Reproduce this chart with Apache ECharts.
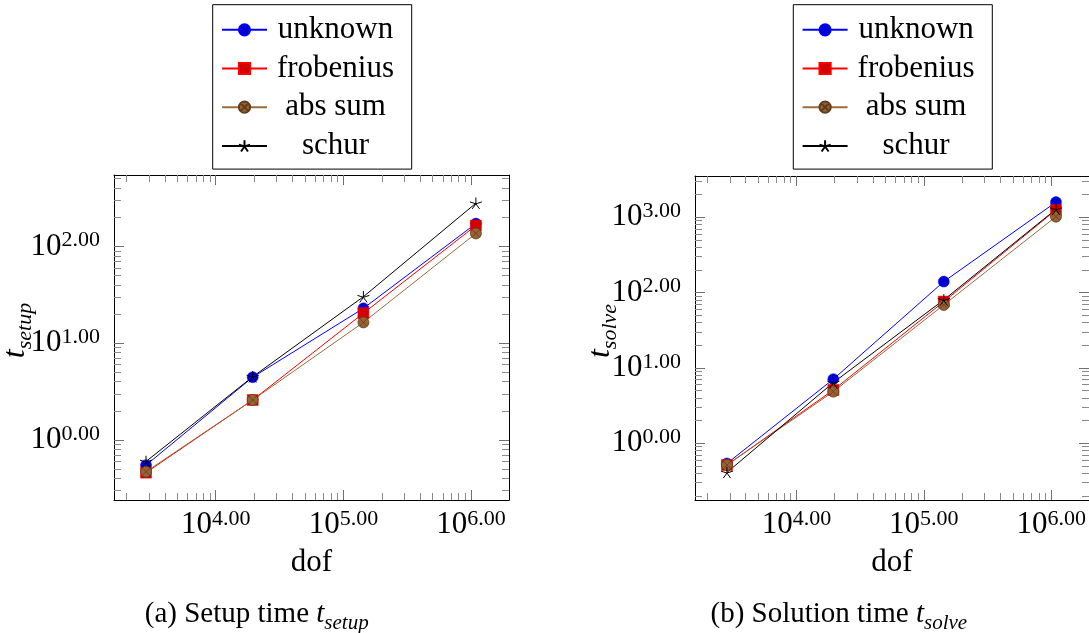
<!DOCTYPE html>
<html>
<head>
<meta charset="utf-8">
<script src="https://cdn.jsdelivr.net/npm/echarts@6/dist/echarts.min.js"></script>
<style>
  html, body { margin: 0; padding: 0; background: #fff; }
  #chart { width: 1089px; height: 633px; }
</style>
</head>
<body>
<div id="chart"></div>
<script>
// Degrees of freedom of the four refinement levels
const dof = [2850, 19500, 143500, 1090000];
const seriesNames = ['unknown', 'frobenius', 'abs sum', 'schur'];

// Setup time per variant
const setupUnknown   = [0.55, 4.45, 22.9, 172];
const setupFrobenius = [0.46, 2.59, 20.4, 164];
const setupAbsSum    = [0.47, 2.59, 16.4, 136];
const setupSchur     = [0.60, 4.50, 30.2, 279];

// Solution time per variant
const solveUnknown   = [0.54, 7.1, 140, 1590];
const solveFrobenius = [0.515, 5.1, 76, 1250];
const solveAbsSum    = [0.515, 4.85, 68.7, 1020];
const solveSchur     = [0.41, 6.4, 80, 1280];

// Decade ticks (labelled)
const dofTicks   = [1e4, 1e5, 1e6];
const setupTicks = [1, 10, 100];
const solveTicks = [1, 10, 100, 1000];

// Axis extents
const dofRange   = [1600, 1.98e6];
const setupRange = [0.24, 546];
const solveRange = [0.1766, 3532];

const FONT = "'Liberation Serif', 'DejaVu Serif', serif";

// 2..9 times each power of ten inside the range
function minorValues(lo, hi) {
  const out = [];
  for (let k = Math.floor(Math.log10(lo)); k <= Math.ceil(Math.log10(hi)); k++) {
    for (let m = 2; m <= 9; m++) {
      const v = m * Math.pow(10, k);
      if (v > lo && v < hi) out.push(v);
    }
  }
  return out;
}

function powerLabel(v) {
  const e = Math.log10(v);
  if (Math.abs(e - Math.round(e)) > 1e-6) return '';
  return '{b|10}{sup|' + Math.round(e).toFixed(2) + '}';
}

const labelRich = {
  b:   { fontFamily: FONT, fontSize: 31, lineHeight: 34, color: '#000' },
  sup: { fontFamily: FONT, fontSize: 22, lineHeight: 25, verticalAlign: 'top', color: '#000' }
};

// Frame axes for one grid side pair: labelled + opposite major ticks, then minor ticks on both sides
function axisSet(dim, gridIndex, range, majors, nameCfg) {
  const sides = dim === 'x' ? ['bottom', 'top'] : ['left', 'right'];
  const minors = minorValues(range[0], range[1]);
  const base = {
    type: 'log', logBase: 10, gridIndex: gridIndex,
    min: range[0], max: range[1],
    splitLine: { show: false }, silent: true,
    axisPointer: { show: false }
  };
  const axes = [];
  sides.forEach(function (pos, i) {
    axes.push(Object.assign({}, base, {
      position: pos,
      axisLine: { show: true, onZero: false, lineStyle: { color: '#000', width: 1 } },
      axisTick: { show: true, inside: true, length: 10, customValues: majors,
                  lineStyle: { color: '#6f6f6f', width: 1 } },
      axisLabel: i === 0
        ? { show: true, customValues: majors, formatter: powerLabel,
            margin: dim === 'x' ? 8 : 14, rich: labelRich }
        : { show: false }
    }, i === 0 ? nameCfg : {}));
  });
  sides.forEach(function (pos) {
    axes.push(Object.assign({}, base, {
      position: pos,
      axisLine: { show: false, onZero: false },
      axisTick: { show: true, inside: true, length: 7, customValues: minors,
                  lineStyle: { color: '#8a8a8a', width: 1 } },
      axisLabel: { show: false }
    }));
  });
  return axes;
}

const dofName = {
  name: 'dof', nameLocation: 'middle', nameGap: 47, nameMoveOverlap: false,
  nameTextStyle: { fontFamily: FONT, fontSize: 31, color: '#000' }
};

function timeName(sub, gap) {
  return {
    name: '{t|t}{s|' + sub + '}', nameLocation: 'middle', nameRotate: 90, nameGap: gap,
    nameMoveOverlap: false,
    nameTextStyle: {
      padding: [0, 0, 0, 14],
      rich: {
        t: { fontFamily: FONT, fontStyle: 'italic', fontSize: 32, lineHeight: 36, verticalAlign: 'top', color: '#000' },
        s: { fontFamily: FONT, fontStyle: 'italic', fontSize: 22, lineHeight: 22, verticalAlign: 'bottom', color: '#000' }
      }
    }
  };
}

// Marker paths
const otimesPath = 'path://M0,-10A10,10,0,1,1,0,10A10,10,0,1,1,0,-10ZM-7.07,-7.07L7.07,7.07M7.07,-7.07L-7.07,7.07';
const starPath = 'path://M0,0L0,-100M0,0L95.1,-30.9M0,0L-95.1,-30.9M0,0L-58.8,80.9M0,0L58.8,80.9';

const styles = {
  'unknown':   { symbol: 'circle', size: 11, line: '#0000ff', fill: '#0000d2', border: '#0000ff', bw: 0.5 },
  'frobenius': { symbol: 'rect',   size: 11, line: '#ff0000', fill: '#d20000', border: '#ff0000', bw: 0.5 },
  'abs sum':   { symbol: otimesPath, size: 11, line: '#9c6b3e', fill: '#9a6233', border: '#5e3c1c', bw: 0.8 },
  'schur':     { symbol: starPath, size: 12, line: '#000000', fill: '#000000', border: '#000000', bw: 1 }
};

function lineSeries(name, values, axisIndex) {
  const st = styles[name];
  return {
    type: 'line', name: name,
    xAxisIndex: axisIndex, yAxisIndex: axisIndex,
    data: dof.map(function (d, i) { return [d, values[i]]; }),
    symbol: st.symbol, symbolSize: st.size, symbolKeepAspect: true,
    lineStyle: { color: st.line, width: 1 },
    itemStyle: { color: st.fill, borderColor: st.border, borderWidth: st.bw },
    color: st.line,
    emphasis: { disabled: true },
    clip: false
  };
}

function legendBox(left) {
  return {
    orient: 'vertical', left: left, top: 4.7,
    data: seriesNames, selectedMode: false,
    itemWidth: 45, itemHeight: 14, itemGap: 7.7,
    padding: [9.6, 12.7, 7.7, 8.3],
    borderColor: '#000', borderWidth: 1, borderRadius: 0, backgroundColor: '#fff',
    formatter: function (n) { return '{c|' + n + '}'; },
    textStyle: {
      rich: { c: { width: 127, align: 'center', fontFamily: FONT, fontSize: 31, lineHeight: 30, color: '#000' } }
    }
  };
}

const captionRich = {
  a: { fontFamily: FONT, fontSize: 29, lineHeight: 34, verticalAlign: 'top', fill: '#000', color: '#000' },
  t: { fontFamily: FONT, fontStyle: 'italic', fontSize: 29, lineHeight: 34, verticalAlign: 'top', fill: '#000', color: '#000' },
  s: { fontFamily: FONT, fontStyle: 'italic', fontSize: 21, lineHeight: 20, verticalAlign: 'bottom', fill: '#000', color: '#000' }
};

const chart = echarts.init(document.getElementById('chart'), null, { renderer: 'canvas' });
chart.setOption({
  animation: false,
  backgroundColor: '#fff',
  grid: [
    { left: 114, top: 175, width: 395, height: 325, show: false, outerBoundsMode: 'none' },
    { left: 695, top: 176, width: 394, height: 324, show: false, outerBoundsMode: 'none' }
  ],
  xAxis: [].concat(
    axisSet('x', 0, dofRange, dofTicks, dofName),
    axisSet('x', 1, dofRange, dofTicks, dofName)
  ),
  yAxis: [].concat(
    axisSet('y', 0, setupRange, setupTicks, timeName('setup', 78)),
    axisSet('y', 1, solveRange, solveTicks, timeName('solve', 74))
  ),
  legend: [legendBox(212.7), legendBox(793.3)],
  series: [
    lineSeries('unknown', setupUnknown, 0),
    lineSeries('frobenius', setupFrobenius, 0),
    lineSeries('abs sum', setupAbsSum, 0),
    lineSeries('schur', setupSchur, 0),
    lineSeries('unknown', solveUnknown, 4),
    lineSeries('frobenius', solveFrobenius, 4),
    lineSeries('abs sum', solveAbsSum, 4),
    lineSeries('schur', solveSchur, 4)
  ],
  graphic: [
    { type: 'text', x: 256.7, y: 617, silent: true,
      style: { text: '{a|(a) Setup time }{t|t}{s|setup}', rich: captionRich,
               align: 'center', verticalAlign: 'middle', fill: '#000' } },
    { type: 'text', x: 838.8, y: 617, silent: true,
      style: { text: '{a|(b) Solution time }{t|t}{s|solve}', rich: captionRich,
               align: 'center', verticalAlign: 'middle', fill: '#000' } }
  ]
});
</script>
</body>
</html>
